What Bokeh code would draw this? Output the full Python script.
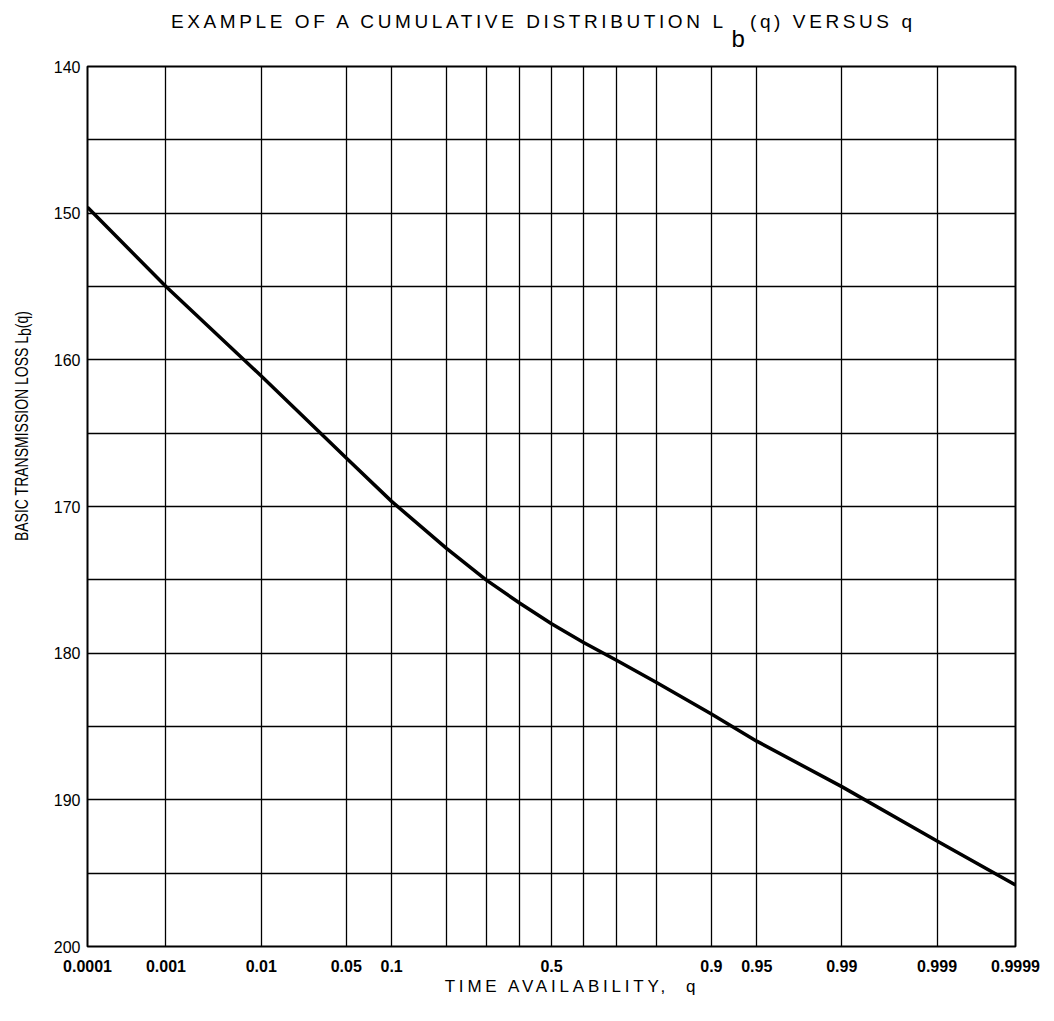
from statistics import NormalDist
from bokeh.plotting import figure
from bokeh.models import Range1d, FixedTicker, ColumnDataSource, Div
from bokeh.layouts import column, row
from bokeh.embed import file_html
from bokeh.resources import INLINE

# ---- data ----
q_values = [0.0001, 0.001, 0.01, 0.05, 0.1, 0.2, 0.3, 0.4, 0.5, 0.6, 0.7,
            0.8, 0.9, 0.95, 0.99, 0.999, 0.9999]
loss_values = [149.6, 155.0, 161.1, 166.7, 169.65, 172.85, 175.0, 176.6, 178.0,
               179.25, 180.5, 182.0, 184.15, 186.0, 189.1, 192.8, 195.8]
grid_q = [0.0001, 0.001, 0.01, 0.05, 0.1, 0.2, 0.3, 0.4, 0.5, 0.6, 0.7,
          0.8, 0.9, 0.95, 0.99, 0.999, 0.9999]
label_q = [0.0001, 0.001, 0.01, 0.05, 0.1, 0.5, 0.9, 0.95, 0.99, 0.999, 0.9999]
label_q_text = ["0.0001", "0.001", "0.01", "0.05", "0.1", "0.5", "0.9",
                "0.95", "0.99", "0.999", "0.9999"]
y_ticks = [140, 150, 160, 170, 180, 190, 200]
y_grid = [140, 145, 150, 155, 160, 165, 170, 175, 180, 185, 190, 195, 200]

title_main = "EXAMPLE OF A CUMULATIVE DISTRIBUTION L"
title_sub = "b"
title_rest = "(q)&nbsp;VERSUS&nbsp;q"
ylabel_main = "BASIC TRANSMISSION LOSS L"
ylabel_sub = "b"
ylabel_rest = "(q)"
xlabel_text = "TIME AVAILABILITY,&nbsp; q"

nd = NormalDist()
def z(q):
    return nd.inv_cdf(q)

zmin, zmax = z(grid_q[0]), z(grid_q[-1])

FONT = "Liberation Sans"

# ---- layout geometry ----
TOTAL_W = 1044
TITLE_H = 50
YLAB_W = 48
FIG_W = TOTAL_W - YLAB_W
BL, BT, BR, BB = 39, 16, 29, 34
FH = 880
FIG_H = BT + FH + BB
XLAB_H = 30

p = figure(width=FIG_W, height=FIG_H, output_backend="svg", toolbar_location=None,
           title=None, x_range=Range1d(zmin, zmax), y_range=Range1d(200, 140),
           min_border_left=BL, min_border_top=BT, min_border_right=BR,
           min_border_bottom=BB, background_fill_color="white",
           border_fill_color="white", margin=0)

src = ColumnDataSource(dict(x=[z(v) for v in q_values], y=loss_values))
p.line("x", "y", source=src, line_color="black", line_width=3.5,
       line_join="round")

# axes
p.xaxis.ticker = FixedTicker(ticks=[z(v) for v in label_q])
p.xaxis.major_label_overrides = {z(v): t for v, t in zip(label_q, label_q_text)}
p.yaxis.ticker = FixedTicker(ticks=y_ticks)
for ax in (p.xaxis[0], p.yaxis[0]):
    ax.major_tick_out = 0
    ax.major_tick_in = 0
    ax.minor_tick_out = 0
    ax.minor_tick_in = 0
    ax.axis_line_color = None
    ax.major_label_text_color = "black"
    ax.major_label_text_font = FONT
p.xaxis.major_label_text_font_size = "16px"
p.xaxis.major_label_text_font_style = "bold"
p.xaxis.major_label_standoff = 13
p.yaxis.major_label_text_font_size = "16px"
p.yaxis.major_label_standoff = 7

# grid
p.xgrid.ticker = FixedTicker(ticks=[z(v) for v in grid_q])
p.ygrid.ticker = FixedTicker(ticks=y_grid)
for g in (p.xgrid[0], p.ygrid[0]):
    g.grid_line_color = "black"
    g.grid_line_width = 1.3
    g.grid_line_alpha = 1.0

p.outline_line_color = "black"
p.outline_line_width = 2

# ---- texts with subscripts (HTML) ----
title_html = (
    f'<div style="margin:12px 0 0 171px; white-space:nowrap; font-family:\'{FONT}\';'
    f' font-size:19px; line-height:1; letter-spacing:3.6px; color:black;">'
    f'{title_main}<span style="font-size:24px; line-height:0; vertical-align:-19px;'
    f' margin-left:5px; letter-spacing:0;">{title_sub}</span>'
    f'<span style="margin-left:5px;">{title_rest}</span></div>'
)
title_div = Div(text=title_html, width=TOTAL_W, height=TITLE_H, margin=0)

ylab_html = (
    f'<div style="height:752px; width:{YLAB_W}px; display:flex; align-items:center;">'
    f'<div style="margin-left:14px; writing-mode:vertical-rl;'
    f' transform:rotate(180deg) scaleX(1.3);'
    f' white-space:nowrap; font-family:\'{FONT}\'; font-size:14px; line-height:1;'
    f' color:black;">{ylabel_main}<span style="vertical-align:-3px; line-height:0;">'
    f'{ylabel_sub}</span>{ylabel_rest}</div></div>'
)
ylab_div = Div(text=ylab_html, width=YLAB_W, height=FIG_H, margin=0)

xlab_html = (
    f'<div style="margin-top:-2px; padding-left:100px; width:{TOTAL_W}px; box-sizing:border-box;'
    f' text-align:center; white-space:nowrap; font-family:\'{FONT}\'; font-size:17px;'
    f' line-height:1; letter-spacing:3.8px; color:black;">{xlabel_text}</div>'
)
xlab_div = Div(text=xlab_html, width=TOTAL_W, height=XLAB_H, margin=0)

layout = column(title_div, row(ylab_div, p, spacing=0, margin=0),
                xlab_div, spacing=0, margin=0)

open("out.html", "w").write(file_html(layout, INLINE))
